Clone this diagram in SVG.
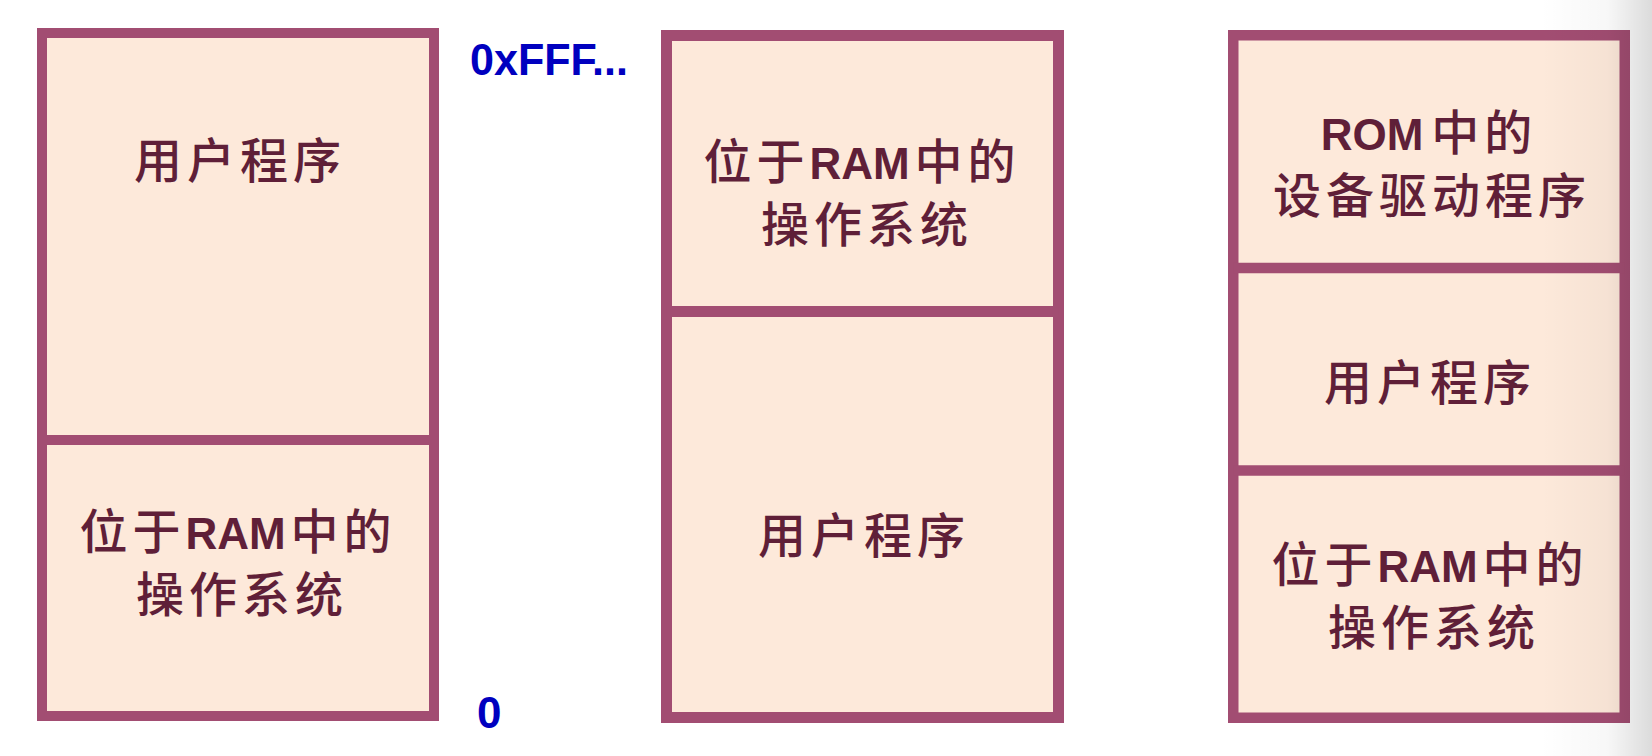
<svg xmlns="http://www.w3.org/2000/svg" width="1652" height="756" viewBox="0 0 1652 756">
<defs>
<style>
.box{fill:#FDE9DA;stroke:#A24D72}
.div{stroke:#A24D72}
.t{font-family:"Noto Sans CJK SC","Noto Sans CJK TC",sans-serif;font-size:48px;font-weight:500;fill:#5F1F38;text-anchor:middle}
.c{letter-spacing:5px}
.l{font-family:"Liberation Sans",Arial,sans-serif;font-weight:bold;font-size:44px;letter-spacing:0}
.addr{font-family:"Liberation Sans",Arial,sans-serif;font-weight:bold;font-size:44px;fill:#0000BF}
</style>
<linearGradient id="edge" x1="1540" y1="0" x2="1652" y2="0" gradientUnits="userSpaceOnUse">
<stop offset="0" stop-color="#000" stop-opacity="0"/>
<stop offset="0.6" stop-color="#000" stop-opacity="0.03"/>
<stop offset="1" stop-color="#000" stop-opacity="0.14"/>
</linearGradient>
</defs>
<rect width="1652" height="756" fill="#FFFFFF"/>
<g id="memory-1">
<rect class="box" x="42" y="33" width="392" height="683" stroke-width="10"/>
<line class="div" x1="42" y1="440" x2="434" y2="440" stroke-width="10"/>
<text class="t" x="240" y="178"><tspan class="c">用户程序</tspan></text>
<text class="t" x="238" y="549"><tspan class="c">位于</tspan><tspan class="l">RAM</tspan><tspan class="c" dx="5">中的</tspan></text>
<text class="t" x="242" y="612"><tspan class="c">操作系统</tspan></text>
</g>
<g id="labels">
<text class="addr" x="470" y="75" textLength="158" lengthAdjust="spacingAndGlyphs">0xFFF...</text>
<text class="addr" x="477" y="728">0</text>
</g>
<g id="memory-2">
<rect class="box" x="666.5" y="35.5" width="392" height="682" stroke-width="11"/>
<line class="div" x1="666.5" y1="311.5" x2="1058.5" y2="311.5" stroke-width="11"/>
<text class="t" x="862" y="179"><tspan class="c">位于</tspan><tspan class="l">RAM</tspan><tspan class="c" dx="5">中的</tspan></text>
<text class="t" x="867" y="242"><tspan class="c">操作系统</tspan></text>
<text class="t" x="864" y="553"><tspan class="c">用户程序</tspan></text>
</g>
<g id="memory-3">
<rect class="box" x="1233.25" y="35.25" width="391.5" height="682.5" stroke-width="10.5"/>
<line class="div" x1="1233.25" y1="268" x2="1624.75" y2="268" stroke-width="10.5"/>
<line class="div" x1="1233.25" y1="470.5" x2="1624.75" y2="470.5" stroke-width="10.5"/>
<text class="t" x="1429" y="150"><tspan class="l">ROM</tspan><tspan class="c" dx="8">中的</tspan></text>
<text class="t" x="1432" y="213"><tspan class="c">设备驱动程序</tspan></text>
<text class="t" x="1430" y="400"><tspan class="c">用户程序</tspan></text>
<text class="t" x="1430" y="582"><tspan class="c">位于</tspan><tspan class="l">RAM</tspan><tspan class="c" dx="5">中的</tspan></text>
<text class="t" x="1434" y="645"><tspan class="c">操作系统</tspan></text>
</g>
<g id="connectors"/>
<rect x="1540" y="0" width="112" height="756" fill="url(#edge)"/>
</svg>
